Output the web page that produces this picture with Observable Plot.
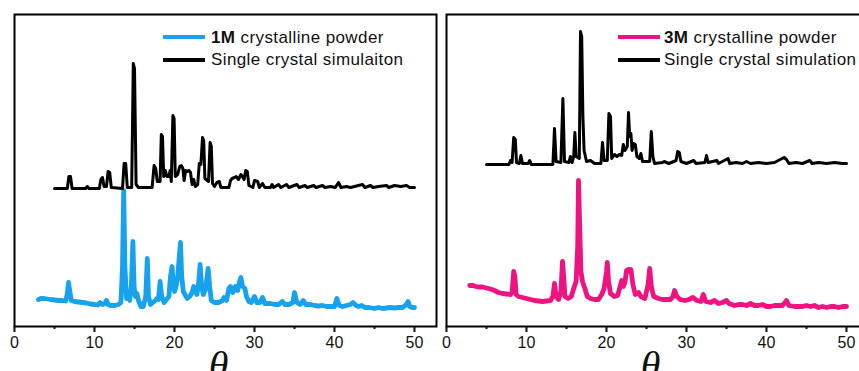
<!DOCTYPE html>
<html><head><meta charset="utf-8">
<script src="https://cdn.jsdelivr.net/npm/d3@7"></script>
<script src="https://cdn.jsdelivr.net/npm/@observablehq/plot@0.6"></script>
<style>
body{margin:0;width:859px;height:371px;overflow:hidden;background:#fff;position:relative;font-family:"Liberation Sans",Arial,sans-serif}
.panel{position:absolute;top:0;width:440px;height:371px}
.panel svg{max-width:none !important}
.leg{position:absolute;font-size:17px;line-height:17px;color:#111;white-space:nowrap;letter-spacing:0.4px;font-family:"Liberation Sans",Arial,sans-serif}
.sw{position:absolute}
</style></head><body>
<div id="left" class="panel" style="left:0px"></div>
<div id="right" class="panel" style="left:432px"></div>
<script>
// ---- data: [2θ (deg), intensity (a.u.)] ----
const majorTicks = [0, 10, 20, 30, 40, 50];
const minorTicks = [5, 15, 25, 35, 45];
const axisLabel = "θ";
const legendLeft = ["1M", " crystalline powder", "Single crystal simulaiton"];
const legendRight = ["3M", " crystalline powder", "Single crystal simulation"];

const sim1M = [[5.0,138],[6.6,138],[6.8,150],[7.0,150],[7.2,138],[8.9,138],[9.1,140],[9.3,138],[10.6,138],[10.8,147],[11.0,149],[11.2,140],[11.5,140],[11.7,155],[11.9,154],[12.1,139],[13.5,138],[13.7,163],[13.9,163],[14.1,139],[14.65,139],[14.85,263],[15.0,258],[15.2,142],[15.5,139],[17.2,139],[17.45,161],[17.65,158],[17.85,145],[18.2,145],[18.35,192],[18.5,190],[18.65,150],[18.85,156],[19.05,150],[19.3,150],[19.45,156],[19.6,145],[19.8,211],[19.95,208],[20.1,150],[20.4,152],[20.65,160],[20.85,161],[21.05,158],[21.2,146],[21.4,156],[21.6,155],[21.8,156],[22.0,154],[22.2,142],[22.4,147],[22.6,140],[22.9,142],[23.1,163],[23.3,162],[23.5,189],[23.65,186],[23.8,148],[24.25,145],[24.45,184],[24.6,180],[24.75,143],[25.0,140],[25.3,144],[25.6,145],[25.8,139],[26.8,139],[27.0,146],[27.2,148],[27.5,149],[27.7,150],[28.0,147],[28.3,152],[28.5,150],[28.7,147],[28.9,156],[29.1,155],[29.3,141],[29.8,139],[30.0,146],[30.4,145],[30.6,139],[31.0,143],[31.3,139],[32.0,139],[32.2,142],[32.4,139],[33.0,142],[33.3,139],[34.0,142],[34.3,139],[35.3,142],[35.6,139],[36.3,141],[36.6,139],[37.4,141],[37.7,139],[38.5,141],[38.8,139],[39.5,140],[40.1,139],[40.5,144],[40.8,139],[41.5,140],[42.0,139],[43.5,142],[43.8,139],[44.5,141],[44.8,139],[45.5,140],[46.5,141],[46.8,139],[47.5,141],[48.3,140],[49.0,141],[49.4,139],[50.0,139]];

const exp1M = [[3.0,27],[3.3,28],[3.7,28],[4.1,27.5],[4.5,27],[5.0,26.5],[5.5,26],[6.0,26],[6.4,25.5],[6.6,33],[6.75,44],[6.9,36],[7.1,26],[7.5,25],[8.0,24.5],[8.5,24],[9.0,23.5],[9.5,22.5],[10.0,22],[10.4,21.5],[10.7,24],[11.0,22],[11.3,23],[11.5,26],[11.7,22],[12.0,21],[12.5,21],[13.0,22],[13.3,24],[13.5,60],[13.65,136],[13.8,60],[14.0,28],[14.2,32],[14.4,26],[14.6,40],[14.8,85],[14.95,40],[15.1,30],[15.3,33],[15.5,26],[15.8,20],[16.1,20],[16.4,30],[16.6,68],[16.75,30],[17.0,22],[17.3,24],[17.6,26],[17.8,28],[18.0,27],[18.2,45],[18.4,30],[18.7,24],[19.0,27],[19.3,30],[19.5,50],[19.7,60],[19.85,40],[20.0,35],[20.2,40],[20.4,50],[20.6,70],[20.75,84],[20.9,50],[21.1,35],[21.3,32],[21.6,28],[21.9,30],[22.2,34],[22.4,40],[22.6,35],[22.8,32],[23.0,42],[23.2,62],[23.4,40],[23.6,32],[23.9,38],[24.2,58],[24.4,40],[24.6,26],[25.0,24],[25.5,24],[26.0,26],[26.2,29],[26.5,26],[26.8,38],[27.0,40],[27.3,34],[27.6,40],[27.9,36],[28.1,44],[28.3,49],[28.5,40],[28.8,38],[29.0,30],[29.3,25],[29.6,24],[30.0,30],[30.3,24],[30.7,24],[31.0,29],[31.3,23],[32.0,23],[32.5,22],[33.0,22],[33.5,25],[33.8,22],[34.3,22],[34.8,24],[35.0,34],[35.3,24],[35.7,22],[36.1,26],[36.4,22],[37.0,22],[37.5,21],[38.0,20.5],[38.5,21],[39.0,20],[39.5,20],[40.0,20],[40.3,28],[40.6,21],[41.0,20],[41.5,21],[42.0,22],[42.3,24],[42.7,21],[43.0,20],[43.4,21],[43.8,19],[44.3,19],[45.0,18],[45.5,19],[46.0,18],[46.5,18.5],[47.0,19],[47.5,18.5],[48.0,19],[48.5,19],[49.0,22],[49.2,25],[49.4,20],[49.7,19],[50.0,19]];

const sim3M = [[5.0,162],[7.8,162],[8.0,166],[8.2,164],[8.4,189],[8.6,187],[8.75,164],[9.1,163],[9.3,171],[9.5,163],[10.2,163],[10.4,166],[10.6,162],[13.3,162],[13.5,198],[13.7,165],[14.3,164],[14.55,228],[14.75,165],[15.3,164],[15.5,170],[15.7,164],[15.9,170],[16.05,194],[16.2,170],[16.6,168],[16.75,295],[16.9,290],[17.05,210],[17.2,176],[17.5,165],[18.0,166],[18.5,163],[19.3,163],[19.5,184],[19.7,166],[20.1,166],[20.3,213],[20.5,210],[20.65,168],[21.0,172],[21.3,170],[21.6,172],[21.9,171],[22.1,182],[22.3,176],[22.6,180],[22.75,214],[22.9,190],[23.05,193],[23.2,176],[23.4,183],[23.6,182],[23.8,170],[24.1,168],[24.3,173],[24.5,165],[25.4,165],[25.6,195],[25.8,170],[26.0,163],[27.0,164],[27.2,165],[27.8,163],[28.7,166],[28.9,175],[29.1,174],[29.3,165],[30.0,163],[30.9,166],[31.2,163],[32.3,164],[32.5,171],[32.7,164],[33.8,166],[34.0,163],[35.2,168],[35.4,163],[36.2,164],[37.0,163],[37.5,165],[38.0,163],[39.0,164],[40.0,163],[41.0,164],[42.2,169],[42.5,167],[42.8,163],[43.7,164],[44.5,163],[45.4,166],[45.7,163],[46.5,164],[47.5,163],[48.5,164],[49.5,163],[50.0,163]];

const exp3M = [[2.9,41],[3.3,41],[3.7,40],[4.0,39.5],[4.5,39.5],[5.0,38.5],[5.5,37.5],[6.0,36],[6.5,34],[7.0,33],[7.5,32.5],[8.0,32],[8.2,34],[8.4,55],[8.55,50],[8.7,32],[9.0,30],[9.5,29],[10.0,28],[10.5,27],[11.0,26],[11.5,25.5],[12.0,25],[12.5,25.5],[13.0,26],[13.3,30],[13.5,43],[13.7,30],[14.0,27],[14.3,35],[14.5,65],[14.65,50],[14.8,30],[15.2,28],[15.6,30],[15.9,38],[16.2,45],[16.4,80],[16.5,146],[16.65,100],[16.8,55],[17.0,45],[17.3,38],[17.6,30],[18.0,28],[18.5,27],[19.0,27],[19.4,32],[19.7,38],[20.0,55],[20.1,64],[20.25,45],[20.5,33],[21.0,30],[21.4,31],[21.7,40],[21.9,46],[22.1,40],[22.3,44],[22.5,56],[22.7,57],[22.9,55],[23.05,57],[23.3,42],[23.6,32],[24.0,34],[24.3,30],[24.8,28],[25.2,42],[25.4,58],[25.6,40],[25.9,30],[26.5,28],[27.0,27],[27.5,27],[28.0,27],[28.3,30],[28.5,36],[28.8,30],[29.2,27],[29.8,26],[30.3,27],[30.8,29],[31.3,26],[31.8,25],[32.1,32],[32.4,25],[33.0,24],[33.5,26],[34.0,23],[34.5,24],[35.0,26],[35.3,23],[36.0,21],[36.5,22],[37.0,22],[37.5,21],[38.0,23],[38.5,21],[39.0,21],[39.5,22],[40.0,20],[40.5,20],[41.0,21],[41.5,21],[42.0,21],[42.5,26],[42.8,21],[43.5,20],[44.0,20],[44.5,20],[45.0,21],[45.5,20],[46.0,21],[46.5,19],[47.0,20],[47.5,19],[48.0,20],[48.5,20],[49.0,19],[49.5,20],[50.0,20]];

const blue = "#17a2ee";
const pink = "#ee1380";

function panel(expt, sim, color) {
  return Plot.plot({
    width: 440, height: 371,
    marginLeft: 14, marginRight: 4, marginTop: 14, marginBottom: 45,
    x: {domain: [0, 52.75], axis: null},
    y: {domain: [0, 312], axis: null},
    style: {fontFamily: "'Liberation Sans', Arial, sans-serif", color: "#111", background: "transparent", overflow: "visible", maxWidth: "none"},
    marks: [
      Plot.line(expt, {x: d => d[0], y: d => d[1], stroke: color, strokeWidth: 4.8, strokeLinejoin: "round", strokeLinecap: "round"}),
      Plot.line(sim, {x: d => d[0], y: d => d[1], stroke: "#000", strokeWidth: 3, strokeLinejoin: "round"}),
      Plot.axisX({ticks: majorTicks, tickSize: 6, tickPadding: 4, fontSize: 16, strokeWidth: 2, label: null}),
      Plot.axisX({ticks: minorTicks, tickSize: 3, tickFormat: () => "", strokeWidth: 2, label: null}),
      Plot.frame({stroke: "#000", strokeWidth: 2}),
      Plot.text([axisLabel], {frameAnchor: "bottom", lineAnchor: "top", dx: -7, dy: 24, fontSize: 40, fontStyle: "italic", fontFamily: "'Liberation Serif','Times New Roman',serif", fill: "#111"})
    ]
  });
}

document.getElementById("left").appendChild(panel(exp1M, sim1M, blue));
document.getElementById("right").appendChild(panel(exp3M, sim3M, pink));

function legend(x0, textX, color, labels) {
  const body = document.body;
  const s1 = document.createElement("div");
  s1.className = "sw";
  s1.style.cssText = `left:${x0}px;top:35px;width:42px;height:4px;background:${color}`;
  const s2 = document.createElement("div");
  s2.className = "sw";
  s2.style.cssText = `left:${x0}px;top:58px;width:42px;height:3.5px;background:#000`;
  const t1 = document.createElement("div");
  t1.className = "leg";
  t1.style.cssText = `left:${textX}px;top:29px`;
  const b = document.createElement("b");
  b.textContent = labels[0];
  t1.appendChild(b);
  t1.appendChild(document.createTextNode(labels[1]));
  const t2 = document.createElement("div");
  t2.className = "leg";
  t2.style.cssText = `left:${textX}px;top:51px`;
  t2.textContent = labels[2];
  [s1, s2, t1, t2].forEach(e => body.appendChild(e));
}
legend(163, 211, blue, legendLeft);
legend(618, 664, pink, legendRight);
</script>
</body></html>
